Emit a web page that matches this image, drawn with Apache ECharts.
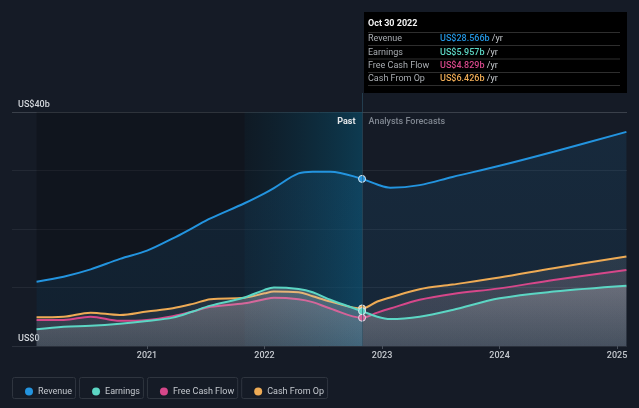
<!DOCTYPE html>
<html><head><meta charset="utf-8">
<script src="https://cdn.jsdelivr.net/npm/echarts@6/dist/echarts.min.js"></script>
<style>html,body{margin:0;padding:0;background:#151b26}#c{width:639px;height:408px}</style>
</head><body><div id="c"></div>
<script>
const xYears = [2020.06, 2020.29, 2020.52, 2020.77, 2021.0, 2021.22, 2021.39, 2021.54, 2021.83, 2022.0, 2022.08, 2022.29, 2022.41, 2022.56, 2022.83, 2022.96, 2023.07, 2023.32, 2023.6, 2024.0, 2024.46, 2025.08];
const revenue = [11.0, 11.85, 13.1, 14.9, 16.3, 18.4, 20.2, 21.8, 24.4, 26.1, 27.0, 29.5, 29.8, 29.8, 28.566, 27.6, 27.06, 27.5, 28.9, 30.8, 33.2, 36.6];
const earnings = [2.85, 3.3, 3.45, 3.8, 4.27, 4.85, 5.9, 6.9, 8.3, 9.6, 10.0, 9.75, 9.2, 7.9, 5.957, 5.0, 4.6, 5.0, 6.15, 8.15, 9.3, 10.3];
const freeCashFlow = [4.45, 4.45, 5.0, 4.3, 4.45, 5.1, 5.9, 6.7, 7.3, 8.0, 8.25, 8.0, 7.5, 6.4, 4.829, 5.7, 6.4, 7.9, 8.9, 9.85, 11.3, 13.0];
const cashFromOp = [4.9, 5.0, 5.7, 5.3, 5.9, 6.45, 7.2, 8.0, 8.25, 9.0, 9.3, 9.2, 8.5, 7.6, 6.426, 7.6, 8.3, 9.7, 10.5, 11.7, 13.3, 15.3];
const xTicks = [2021, 2022, 2023, 2024, 2025];
const yLabels = {0: 'US$0', 40: 'US$40b'};
const seriesNames = ['Revenue', 'Earnings', 'Free Cash Flow', 'Cash From Op'];
const seriesColors = ['#2394df', '#5cd6c4', '#d6478a', '#eeab55'];
const nowIndex = 14;
const pastStart = 2020.06, highlightStart = 2021.83, nowX = 2022.83;
const tooltipDate = 'Oct 30 2022';
const tooltipValues = ['US$28.566b', 'US$5.957b', 'US$4.829b', 'US$6.426b'];
const FONT = 'Roboto, "Noto Sans", sans-serif';

const chart = echarts.init(document.getElementById('c'), null, {renderer: 'canvas'});

function mkData(vals, color) {
  return xYears.map((x, i) => i === nowIndex
    ? {value: [x, vals[i]], symbol: 'circle', symbolSize: 7, itemStyle: {color: color, borderColor: '#dfe8ef', borderWidth: 1}}
    : [x, vals[i]]);
}
function grad(a, b) {
  return new echarts.graphic.LinearGradient(0, 0, 0, 1, [{offset: 0, color: a}, {offset: 1, color: b}]);
}
function lineSeries(name, vals, color, area, z) {
  return {
    name: name, type: 'line', smooth: 0.35, data: mkData(vals, color), z: z,
    symbol: 'none', showSymbol: true, showAllSymbol: true,
    lineStyle: {color: color, width: 2}, itemStyle: {color: color},
    areaStyle: area, emphasis: {disabled: true}
  };
}

const option = {
  backgroundColor: '#151b26',
  animation: false,
  textStyle: {fontFamily: FONT},
  grid: {left: 12, right: 12, top: 112, bottom: 62},
  xAxis: {
    type: 'value', min: 2019.851, max: 2025.085,
    splitLine: {show: false},
    axisLine: {show: false},
    axisTick: {show: true, customValues: xTicks, length: 3, lineStyle: {color: '#4a515c'}},
    axisLabel: {customValues: xTicks, color: '#c4c8ce', fontSize: 9, fontWeight: 500, margin: 5, formatter: v => String(Math.round(v))}
  },
  yAxis: {
    type: 'value', min: 0, max: 40, interval: 10,
    axisLine: {show: false}, axisTick: {show: false},
    splitLine: {lineStyle: {color: ['#2a303b', '#232934', '#232934', '#232934', '#3a404a'], width: 1}},
    axisLabel: {inside: true, margin: 6, color: '#d2d6db', fontSize: 9, fontWeight: 500, verticalAlign: 'bottom', padding: [0, 0, 3, 0],
      formatter: v => yLabels[v] || ''}
  },
  legend: {
    data: seriesNames, left: 20, top: 382, icon: 'circle', itemWidth: 8, itemHeight: 8, itemGap: 20,
    textStyle: {color: '#c4c8ce', fontSize: 9, fontFamily: FONT},
    selectedMode: false
  },
  series: [
    {
      name: 'bands', type: 'line', data: [], z: 1, silent: true,
      markArea: {silent: true, data: [
        [{xAxis: pastStart, itemStyle: {color: 'rgba(0,0,0,0.2)'}}, {xAxis: nowX}],
        [{xAxis: highlightStart, itemStyle: {color: new echarts.graphic.LinearGradient(0, 0, 1, 0, [
          {offset: 0, color: 'rgba(10,70,95,0.10)'}, {offset: 1, color: 'rgba(10,95,130,0.5)'}])}}, {xAxis: nowX}]
      ]}
    },
    lineSeries('Revenue', revenue, seriesColors[0], {color: grad('rgba(35,148,223,0.17)', 'rgba(35,148,223,0.13)')}, 2),
    lineSeries('Cash From Op', cashFromOp, seriesColors[3], {color: grad('rgba(200,200,205,0.17)', 'rgba(200,200,205,0.12)')}, 3),
    lineSeries('Free Cash Flow', freeCashFlow, seriesColors[2], {color: grad('rgba(215,160,185,0.2)', 'rgba(200,185,195,0.13)')}, 4),
    lineSeries('Earnings', earnings, seriesColors[1], {color: grad('rgba(210,208,210,0.4)', 'rgba(200,200,205,0.18)')}, 5)
  ]
};
chart.setOption(option);

const top40 = chart.convertToPixel({gridIndex: 0}, [nowX, 40]);
const base0 = chart.convertToPixel({gridIndex: 0}, [nowX, 0]);
const nx = Math.round(top40[0]) + 0.5;

const cv = document.createElement('canvas').getContext('2d');
cv.font = 'normal normal 9px ' + FONT;
const g = [];
g.push({type: 'line', shape: {x1: nx, y1: 93, x2: nx, y2: base0[1]}, style: {stroke: 'rgba(45,85,105,0.6)', lineWidth: 1}, z: 10, silent: true});
g.push({type: 'text', x: nx - 7, y: 121.5, style: {text: 'Past', fill: '#e4e6e9', font: 'bold 9px ' + FONT, align: 'right', verticalAlign: 'middle'}, z: 10});
g.push({type: 'text', x: nx + 6, y: 121.5, style: {text: 'Analysts Forecasts', fill: '#7f8690', font: '500 9px ' + FONT, align: 'left', verticalAlign: 'middle'}, z: 10});

g.push({type: 'rect', shape: {x: 364, y: 12, width: 263, height: 81}, style: {fill: '#000000'}, z: 20});
g.push({type: 'text', x: 368, y: 24, style: {text: tooltipDate, fill: '#f2f2f2', font: 'bold 9px ' + FONT, verticalAlign: 'middle'}, z: 21});
const rowLines = [32.5, 45.5, 59, 72.5, 85.5];
rowLines.forEach(y => g.push({type: 'line', shape: {x1: 368, y1: y, x2: 620, y2: y}, style: {stroke: '#2e2e2e', lineWidth: 1}, z: 21}));
const rowY = [39, 52.3, 65.6, 79];
seriesNames.forEach((n, i) => {
  g.push({type: 'text', x: 368, y: rowY[i], style: {text: n, fill: '#a9adb2', font: '9px ' + FONT, verticalAlign: 'middle'}, z: 21});
  g.push({type: 'text', x: 440, y: rowY[i], style: {
    text: '{v|' + tooltipValues[i] + '}{u| /yr}', verticalAlign: 'middle',
    rich: {v: {fill: seriesColors[i], font: '500 9px ' + FONT}, u: {fill: '#c8ccd0', font: '9px ' + FONT}}
  }, z: 21});
});

let lx = 20;
seriesNames.forEach(n => {
  const tw = cv.measureText(n).width;
  const w = 8 + 5 + tw;
  g.push({type: 'rect', shape: {x: lx - 8 + 0.5, y: 377.5, width: w + 17 - 1, height: 21, r: 2}, style: {fill: 'none', stroke: '#2f353f', lineWidth: 1}, z: 0, silent: true});
  lx += w + 20;
});
chart.setOption({graphic: g});
</script></body></html>
